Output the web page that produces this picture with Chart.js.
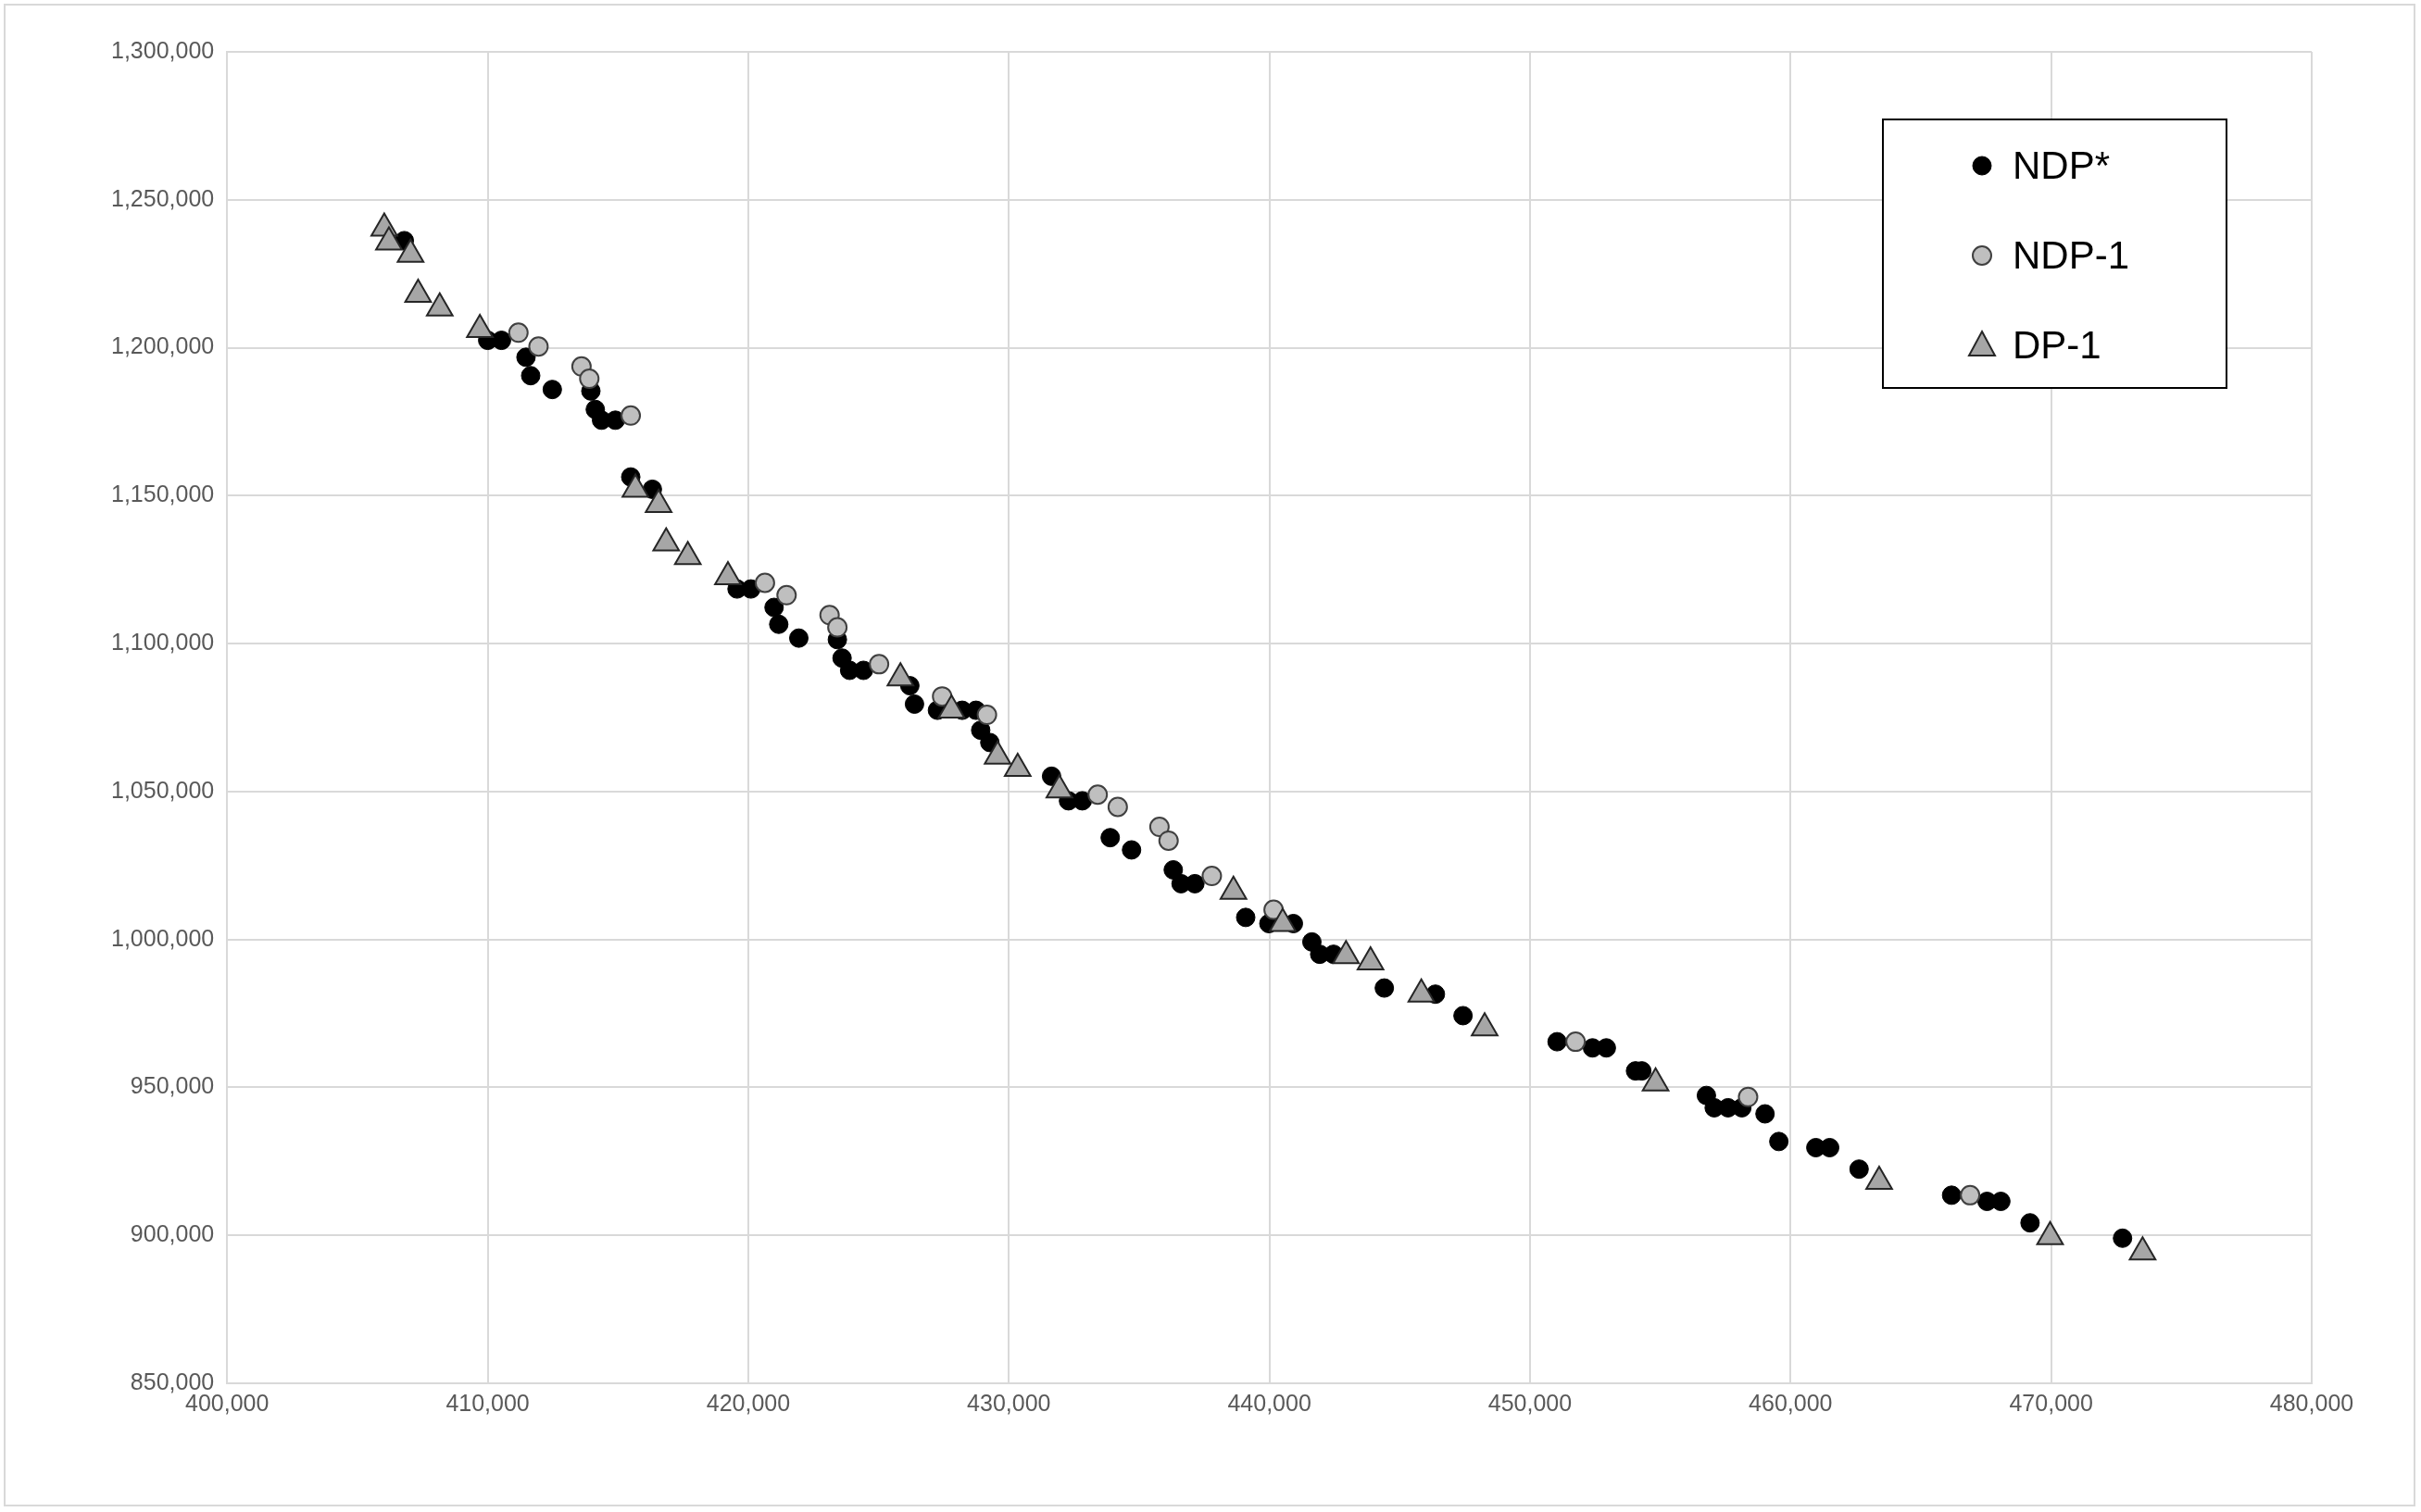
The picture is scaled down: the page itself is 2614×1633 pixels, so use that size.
<!DOCTYPE html>
<html>
<head>
<meta charset="utf-8">
<script src="https://cdn.jsdelivr.net/npm/chart.js@4/dist/chart.umd.min.js"></script>
<style>
  html, body { margin: 0; padding: 0; background: #fff; }
  #wrap { position: relative; width: 2604px; height: 1623px; margin: 4px; border: 2px solid #d9d9d9; box-sizing: border-box; }
</style>
</head>
<body>
<div id="wrap"><canvas id="chart"></canvas></div>
<script>
// NDP* (black dots)
const ndpStarX = [406800,410000,410530,411470,411650,412480,413960,414130,414370,414900,415490,416320,419570,420100,420990,421170,421940,423420,423600,423890,424420,426200,426380,427260,428210,428740,428920,429270,431640,432290,432820,433890,434710,436310,436610,437140,439090,439980,440920,441630,441930,442460,444410,446370,447430,451040,452400,452930,454050,454290,456770,457070,457600,458130,459020,459550,460970,461500,462630,466180,467540,468070,469190,472740];
const ndpStarY = [1236200,1202500,1202500,1196780,1190560,1185890,1185370,1179140,1175510,1175510,1156320,1152170,1118460,1118460,1112230,1106530,1101860,1101340,1095110,1090960,1090960,1085780,1079550,1077470,1077470,1077470,1070730,1066580,1055170,1046870,1046870,1034420,1030270,1023530,1018860,1018860,1007450,1005380,1005380,999160,995000,995000,983590,981520,974250,965440,963360,963360,955580,955580,947280,943130,943130,943130,941060,931720,929650,929650,922390,913570,911490,911490,904230,899040];
// NDP-1 (grey circles)
const ndp1X = [411180,411950,413600,413900,415490,420640,421470,423120,423420,425020,427440,429160,433410,434180,435780,436130,437790,440160,451750,458370,466890];
const ndp1Y = [1205080,1200410,1193670,1189520,1177070,1120530,1116380,1109640,1105490,1093040,1082150,1075920,1048950,1044800,1038060,1033390,1021460,1010040,965440,946770,913570];
// DP-1 (grey triangles)
const dp1X = [406030,406210,407040,407330,408160,409700,415670,416560,416850,417680,419220,425840,427800,429570,430340,431940,438620,440510,442940,443880,445830,448260,454820,463400,469960,473510];
const dp1Y = [1240350,1235680,1231530,1218050,1213380,1206120,1152170,1146980,1134000,1129350,1122600,1088370,1077470,1061910,1057770,1050510,1016270,1005380,994480,992410,981520,970100,951430,918230,899560,894370];

const seriesNames = ["NDP*", "NDP-1", "DP-1"];

function pts(xs, ys) { return xs.map((x, i) => ({x: x, y: ys[i]})); }

// legend box drawn inside the plot, like the original
const boxLegend = {
    id: 'boxLegend',
    afterDraw(chart) {
        const c = chart.ctx;
        const x0 = 2027, y0 = 123, w = 371, h = 290;
        c.save();
        c.fillStyle = '#fff';
        c.fillRect(x0, y0, w, h);
        c.strokeStyle = '#000';
        c.lineWidth = 2;
        c.strokeRect(x0, y0, w, h);
        c.font = '42px "Liberation Sans", Arial, sans-serif';
        c.textBaseline = 'middle';
        chart.data.datasets.forEach((ds, i) => {
            const cy = y0 + 50 + i * 97;
            const cx = x0 + 107;
            c.fillStyle = ds.backgroundColor;
            c.strokeStyle = ds.borderColor;
            c.lineWidth = ds.borderWidth;
            c.beginPath();
            if (ds.pointStyle === 'triangle') {
                c.moveTo(cx, cy - 15); c.lineTo(cx + 14, cy + 11); c.lineTo(cx - 14, cy + 11); c.closePath();
            } else {
                c.arc(cx, cy, 10, 0, Math.PI * 2);
            }
            c.fill(); c.stroke();
            c.fillStyle = '#000';
            c.fillText(seriesNames[i], cx + 33, cy + 2);
        });
        c.restore();
    }
};

const fmt = v => v.toLocaleString('en-US');

new Chart(document.getElementById('chart'), {
    type: 'scatter',
    data: {
        datasets: [
            {label: seriesNames[0], data: pts(ndpStarX, ndpStarY), backgroundColor: '#000', borderColor: '#000', borderWidth: 1, pointRadius: 10, order: 3},
            {label: seriesNames[1], data: pts(ndp1X, ndp1Y), backgroundColor: '#bfbfbf', borderColor: '#404040', borderWidth: 2, pointRadius: 10, order: 2},
            {label: seriesNames[2], data: pts(dp1X, dp1Y), backgroundColor: '#a6a6a6', borderColor: '#262626', borderWidth: 2, pointRadius: 16, pointStyle: 'triangle', order: 1}
        ]
    },
    options: {
        responsive: true,
        maintainAspectRatio: false,
        animation: false,
        layout: {padding: {left: 100, right: 110, top: 50, bottom: 85}},
        plugins: {legend: {display: false}, tooltip: {enabled: false}},
        scales: {
            x: {
                min: 400000, max: 480000,
                ticks: {stepSize: 10000, callback: fmt, color: '#595959', padding: 8, font: {size: 25, family: '"Liberation Sans", Arial'}},
                grid: {color: '#d9d9d9', lineWidth: 2, drawTicks: false},
                border: {color: '#d9d9d9', width: 2}
            },
            y: {
                min: 850000, max: 1300000,
                ticks: {stepSize: 50000, callback: fmt, color: '#595959', padding: 14, font: {size: 25, family: '"Liberation Sans", Arial'}},
                grid: {color: '#d9d9d9', lineWidth: 2, drawTicks: false},
                border: {color: '#d9d9d9', width: 2}
            }
        }
    },
    plugins: [boxLegend]
});
</script>
</body>
</html>
